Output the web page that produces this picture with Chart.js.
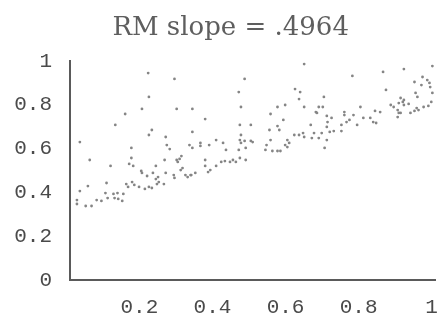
<!DOCTYPE html>
<html>
<head>
<meta charset="utf-8">
<script src="https://cdn.jsdelivr.net/npm/chart.js@4.4.0/dist/chart.umd.min.js"></script>
<style>
  html, body { margin: 0; padding: 0; background: #ffffff; }
  #wrap { width: 445px; height: 324px; }
</style>
</head>
<body>
<div id="wrap"><canvas id="c" width="445" height="324"></canvas></div>
<script>
const chartTitle = 'RM slope = .4964';
const xTickValues = [0.2, 0.4, 0.6, 0.8, 1];
const xTickLabels = ['0.2', '0.4', '0.6', '0.8', '1'];
const yTickValues = [0, 0.2, 0.4, 0.6, 0.8, 1];
const yTickLabels = ['0', '0.2', '0.4', '0.6', '0.8', '1'];

const xVals = [
  0.224, 0.296, 0.226, 0.207, 0.302, 0.345, 0.161, 0.380, 0.134, 0.234,
  0.226, 0.345, 0.037, 0.272, 0.275, 0.283, 0.178, 0.337, 0.345, 0.367,
  0.367, 0.391, 0.410, 0.064, 0.121, 0.178, 0.172, 0.183, 0.269, 0.302,
  0.380, 0.380, 0.410, 0.245, 0.315, 0.310, 0.305, 0.205, 0.207, 0.221,
  0.237, 0.272, 0.294, 0.326, 0.332, 0.340, 0.388, 0.394, 0.296, 0.313,
  0.318, 0.251, 0.245, 0.180, 0.186, 0.164, 0.110, 0.059, 0.037, 0.199,
  0.215, 0.226, 0.234, 0.248, 0.253, 0.267, 0.107, 0.129, 0.140, 0.156,
  0.083, 0.113, 0.132, 0.029, 0.029, 0.053, 0.069, 0.096, 0.142, 0.153,
  0.169, 0.429, 0.437, 0.475, 0.478, 0.472, 0.491, 0.510, 0.424, 0.434,
  0.448, 0.456, 0.464, 0.475, 0.491, 0.353, 0.342, 0.651, 0.488, 0.472,
  0.478, 0.475, 0.505, 0.478, 0.488, 0.505, 0.559, 0.578, 0.599, 0.594,
  0.578, 0.583, 0.556, 0.559, 0.548, 0.564, 0.578, 0.586, 0.545, 0.605,
  0.610, 0.605, 0.599, 0.624, 0.637, 0.648, 0.651, 0.626, 0.640, 0.637,
  0.651, 0.669, 0.672, 0.691, 0.713, 0.707, 0.683, 0.702, 0.705, 0.713,
  0.726, 0.715, 0.713, 0.699, 0.721, 0.732, 0.753, 0.753, 0.761, 0.761,
  0.767, 0.775, 0.783, 0.786, 0.796, 0.805, 0.813, 0.832, 0.845, 0.848,
  0.859, 0.867, 0.875, 0.888, 0.896, 0.907, 0.910, 0.915, 0.910, 0.921,
  0.924, 0.924, 0.937, 0.953, 0.964, 0.924, 0.953, 0.956, 0.961, 0.972,
  0.975, 0.988, 0.996, 0.994, 1.002, 0.999, 0.991, 0.978, 1.002, 0.686,
  0.691, 0.678, 0.840, 0.915, 0.907, 0.942, 0.959
];
const yVals = [
  0.945, 0.918, 0.836, 0.781, 0.781, 0.781, 0.758, 0.735, 0.708, 0.685,
  0.662, 0.676, 0.630, 0.653, 0.616, 0.598, 0.603, 0.616, 0.603, 0.626,
  0.612, 0.616, 0.639, 0.548, 0.521, 0.557, 0.530, 0.521, 0.548, 0.548,
  0.548, 0.521, 0.521, 0.521, 0.566, 0.553, 0.539, 0.498, 0.489, 0.475,
  0.489, 0.489, 0.479, 0.479, 0.470, 0.479, 0.493, 0.502, 0.466, 0.502,
  0.511, 0.470, 0.461, 0.447, 0.434, 0.438, 0.443, 0.429, 0.406, 0.425,
  0.416, 0.425, 0.420, 0.438, 0.447, 0.438, 0.397, 0.393, 0.397, 0.393,
  0.365, 0.374, 0.374, 0.365, 0.347, 0.338, 0.338, 0.361, 0.370, 0.361,
  0.425, 0.626, 0.594, 0.639, 0.626, 0.594, 0.603, 0.630, 0.539, 0.543,
  0.539, 0.548, 0.539, 0.557, 0.548, 0.489, 0.479, 0.986, 0.918, 0.858,
  0.790, 0.708, 0.708, 0.662, 0.635, 0.635, 0.758, 0.790, 0.799, 0.731,
  0.703, 0.685, 0.685, 0.639, 0.616, 0.589, 0.589, 0.589, 0.594, 0.639,
  0.626, 0.607, 0.616, 0.662, 0.662, 0.671, 0.653, 0.872, 0.858, 0.826,
  0.790, 0.708, 0.648, 0.648, 0.639, 0.603, 0.767, 0.790, 0.836, 0.749,
  0.740, 0.721, 0.699, 0.671, 0.676, 0.680, 0.708, 0.680, 0.767, 0.753,
  0.721, 0.731, 0.932, 0.753, 0.708, 0.790, 0.740, 0.740, 0.772, 0.717,
  0.767, 0.950, 0.868, 0.799, 0.790, 0.776, 0.763, 0.831, 0.808, 0.813,
  0.822, 0.799, 0.804, 0.772, 0.776, 0.963, 0.904, 0.854, 0.836, 0.890,
  0.927, 0.913, 0.881, 0.900, 0.854, 0.813, 0.795, 0.790, 0.977, 0.763,
  0.790, 0.671, 0.721, 0.763, 0.744, 0.763, 0.785
];

const points = xVals.map((x, i) => ({ x: x, y: yVals[i] }));

const tickFont = { family: "'Liberation Mono', 'DejaVu Sans Mono', monospace", size: 21 };
const axisColor = '#5a5a5a';

// Shift the (full-width) title box so it centres where the reference title sits.
const titleShift = {
  id: 'titleShift',
  afterLayout(chart) {
    const t = chart.titleBlock;
    if (t) { t.left = 26; t.right = chart.chartArea.right; }
  }
};

new Chart(document.getElementById('c'), {
  type: 'scatter',
  data: {
    datasets: [{
      data: points,
      pointRadius: 1.4,
      pointHoverRadius: 1.4,
      pointBackgroundColor: '#858585',
      pointBorderWidth: 0
    }]
  },
  options: {
    responsive: false,
    animation: false,
    events: [],
    layout: { padding: { left: 0, right: 5, top: 0, bottom: 0 } },
    plugins: {
      legend: { display: false },
      tooltip: { enabled: false },
      title: {
        display: true,
        text: chartTitle,
        color: '#5e5e5e',
        font: { family: "'DejaVu Serif', serif", size: 26, weight: 'normal' },
        padding: { top: 13, bottom: 16.8 }
      }
    },
    scales: {
      x: {
        type: 'linear',
        min: 0.01,
        max: 1.01,
        grid: { display: false },
        border: { display: true, color: axisColor, width: 2 },
        afterBuildTicks: (scale) => { scale.ticks = xTickValues.map(v => ({ value: v })); },
        afterFit: (scale) => { scale.height = 44; },
        ticks: {
          font: tickFont,
          color: '#4a4a4a',
          padding: 7,
          maxRotation: 0,
          autoSkip: false,
          callback: (v) => { const i = xTickValues.indexOf(v); return i >= 0 ? xTickLabels[i] : ''; }
        }
      },
      y: {
        type: 'linear',
        min: 0,
        max: 1,
        grid: { display: false },
        border: { display: true, color: axisColor, width: 2 },
        afterBuildTicks: (scale) => { scale.ticks = yTickValues.map(v => ({ value: v })); },
        afterFit: (scale) => { scale.width = 70; },
        ticks: {
          font: tickFont,
          color: '#4a4a4a',
          padding: 10,
          autoSkip: false,
          callback: (v) => { const i = yTickValues.indexOf(v); return i >= 0 ? yTickLabels[i] : ''; }
        }
      }
    }
  },
  plugins: [titleShift]
});
</script>
</body>
</html>
